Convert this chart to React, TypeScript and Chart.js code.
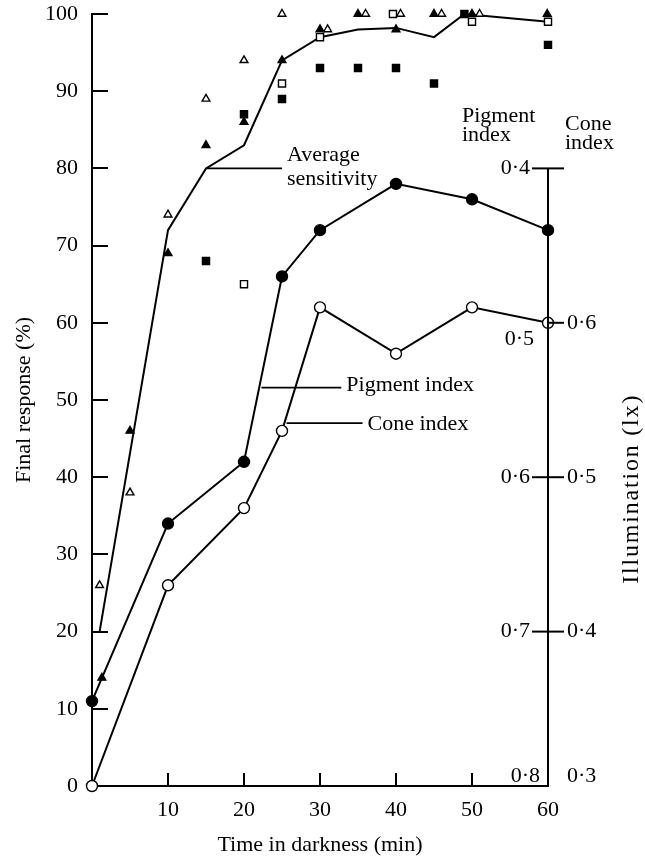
import { useEffect, useRef } from 'react';
import { Chart, registerables } from 'chart.js';

Chart.register(...registerables);

// ---------- data ----------
const timeTicks = [10, 20, 30, 40, 50, 60];
const responseTicks = [0, 10, 20, 30, 40, 50, 60, 70, 80, 90, 100];
const pigmentTickLabels = [0.4, 0.5, 0.6, 0.7, 0.8];
const pigmentTickMarks = [0.4, 0.6, 0.7];
const coneTickLabels = [0.6, 0.5, 0.4, 0.3];
const coneTickMarks = [0.7, 0.6, 0.5, 0.4];

const avgTime = [1, 10, 15, 20, 25, 30, 35, 40, 45, 49, 60];
const avgResp = [20, 72, 80, 83, 94, 97, 98, 98.2, 97, 100, 99];

const pigTime = [0, 10, 20, 25, 30, 40, 50, 60];
const pigResp = [11, 34, 42, 66, 72, 78, 76, 72];

const coneTime = [0, 10, 20, 25, 30, 40, 50, 60];
const coneResp = [0, 26, 36, 46, 62, 56, 62, 60];

const openTriTime = [1, 5, 10, 15, 20, 25, 31, 36, 40.6, 46, 51, 61];
const openTriResp = [26, 38, 74, 89, 94, 100, 98, 100, 100, 100, 100, 100];

const filledTriTime = [1.3, 5, 10, 15, 20, 25, 30, 35, 40, 45, 50, 59.9];
const filledTriResp = [14, 46, 69, 83, 86, 94, 98, 100, 98, 100, 100, 100];

const openSqTime = [20, 25, 30, 39.6, 50, 60];
const openSqResp = [65, 91, 97, 100, 99, 99];

const filledSqTime = [15, 20, 25, 30, 35, 40, 45, 49, 60];
const filledSqResp = [68, 87, 89, 93, 93, 93, 91, 100, 96];

const avgLeaderTime = [15, 25];
const avgLeaderResp = [80, 80];
const pigLeaderTime = [22.3, 32.8];
const pigLeaderResp = [51.6, 51.6];
const coneLeaderTime = [25.6, 35.6];
const coneLeaderResp = [47, 47];

// ---------- helpers ----------
const SERIF = "'Liberation Serif', 'Times New Roman', serif";
const FONT_SIZE = 22;
const toXY = (xs: number[], ys: number[]) => xs.map((x, i) => ({ x, y: ys[i] }));
const fmt = (v: number) => v.toFixed(1).replace('.', '\u00b7');

const annotationPlugin = {
  id: 'annotations',
  afterDraw(chart: any) {
    const { ctx, scales } = chart;
    const xs = scales.x;
    const ys = scales.y;
    const pig = scales.pig;
    const cone = scales.cone;
    ctx.save();
    ctx.fillStyle = '#000';
    ctx.strokeStyle = '#000';
    ctx.font = `${FONT_SIZE}px ${SERIF}`;
    ctx.textBaseline = 'middle';

    // right-hand axis
    const ax = xs.getPixelForValue(60);
    const yTop = pig.getPixelForValue(0.4);
    const yBottom = ys.getPixelForValue(0);
    ctx.lineWidth = 2;
    ctx.beginPath();
    ctx.moveTo(ax, yTop);
    ctx.lineTo(ax, yBottom);
    ctx.stroke();
    pigmentTickMarks.forEach((v) => {
      const py = pig.getPixelForValue(v);
      ctx.beginPath();
      ctx.moveTo(ax - 16, py);
      ctx.lineTo(ax, py);
      ctx.stroke();
    });
    coneTickMarks.forEach((v) => {
      const py = cone.getPixelForValue(v);
      ctx.beginPath();
      ctx.moveTo(ax, py);
      ctx.lineTo(ax + 16, py);
      ctx.stroke();
    });
    ctx.textAlign = 'right';
    pigmentTickLabels.forEach((v) => {
      let py = pig.getPixelForValue(v);
      let px = ax - 18;
      if (v === 0.5) { py += 16; px = ax - 14; }
      if (v === 0.8) { py -= 10; px = ax - 8; }
      ctx.fillText(fmt(v), px, py);
    });
    ctx.textAlign = 'left';
    coneTickLabels.forEach((v) => {
      let py = cone.getPixelForValue(v);
      let px = ax + 19;
      if (v === 0.3) { py -= 10; }
      ctx.fillText(fmt(v), px, py);
    });

    // axis header labels
    ctx.fillText('Pigment', ax - 86, yTop - 52);
    ctx.fillText('index', ax - 86, yTop - 33);
    ctx.fillText('Cone', ax + 17, yTop - 44);
    ctx.fillText('index', ax + 17, yTop - 25);

    // series labels next to leader lines
    const ax1 = xs.getPixelForValue(avgLeaderTime[1]);
    const ay1 = ys.getPixelForValue(avgLeaderResp[1]);
    ctx.fillText('Average', ax1 + 5, ay1 - 13);
    ctx.fillText('sensitivity', ax1 + 5, ay1 + 11);
    const px1 = xs.getPixelForValue(pigLeaderTime[1]);
    const py1 = ys.getPixelForValue(pigLeaderResp[1]);
    ctx.fillText('Pigment index', px1 + 5, py1 - 2);
    const cx1 = xs.getPixelForValue(coneLeaderTime[1]);
    const cy1 = ys.getPixelForValue(coneLeaderResp[1]);
    ctx.fillText('Cone index', cx1 + 5, cy1 + 1);

    // right axis title
    ctx.save();
    ctx.font = `24px ${SERIF}`;
    try { (ctx as any).letterSpacing = '1.8px'; } catch (e) { /* ignore */ }
    ctx.translate(ax + 84, ys.getPixelForValue(38.5));
    ctx.rotate(-Math.PI / 2);
    ctx.textAlign = 'center';
    ctx.fillText('Illumination (lx)', 0, 0);
    ctx.restore();

    ctx.restore();
  },
};

export default function App() {
  const canvasRef = useRef<HTMLCanvasElement | null>(null);

  useEffect(() => {
    const canvas = canvasRef.current;
    if (!canvas) return;
    const font = { family: SERIF, size: FONT_SIZE };
    const line = (data: any[], extra: any = {}) => ({
      type: 'line',
      data,
      borderColor: '#000',
      borderWidth: 2,
      pointRadius: 0,
      fill: false,
      tension: 0,
      clip: false,
      ...extra,
    });
    const marks = (data: any[], style: string, radius: number, filled: boolean) => ({
      type: 'scatter',
      data,
      showLine: false,
      pointStyle: style,
      pointRadius: radius,
      pointBackgroundColor: filled ? '#000' : '#fff',
      pointBorderColor: '#000',
      pointBorderWidth: 1.4,
      clip: false,
    });
    const noPad = (s: any) => {
      s.paddingTop = 0;
      s.paddingBottom = 0;
      s.paddingLeft = 0;
      s.paddingRight = 0;
    };

    const chart = new Chart(canvas, {
      type: 'line',
      data: {
        datasets: [
          marks(toXY(openTriTime, openTriResp), 'triangle', 4.5, false),
          marks(toXY(filledTriTime, filledTriResp), 'triangle', 4.5, true),
          marks(toXY(openSqTime, openSqResp), 'rect', 5, false),
          marks(toXY(filledSqTime, filledSqResp), 'rect', 5, true),
          line(toXY(pigTime, pigResp), {
            pointRadius: 5.5,
            pointStyle: 'circle',
            pointBackgroundColor: '#000',
            pointBorderColor: '#000',
            pointBorderWidth: 1.4,
          }),
          line(toXY(coneTime, coneResp), {
            pointRadius: 5.5,
            pointStyle: 'circle',
            pointBackgroundColor: '#fff',
            pointBorderColor: '#000',
            pointBorderWidth: 1.4,
          }),
          line(toXY(avgTime, avgResp)),
          line(toXY(avgLeaderTime, avgLeaderResp), { borderWidth: 1.6 }),
          line(toXY(pigLeaderTime, pigLeaderResp), { borderWidth: 1.6 }),
          line(toXY(coneLeaderTime, coneLeaderResp), { borderWidth: 1.6 }),
        ] as any,
      },
      options: {
        animation: false,
        responsive: false,
        maintainAspectRatio: false,
        events: [],
        layout: { padding: { top: 14, right: 97, left: 0, bottom: 0 } },
        plugins: {
          legend: { display: false },
          tooltip: { enabled: false },
        },
        scales: {
          x: {
            type: 'linear',
            position: 'bottom',
            min: 0,
            max: 60,
            afterBuildTicks: (s: any) => {
              s.ticks = timeTicks.map((v) => ({ value: v }));
            },
            ticks: { font, color: '#000', padding: 24, maxRotation: 0, autoSkip: false },
            grid: {
              drawOnChartArea: false,
              drawTicks: true,
              tickLength: -13,
              color: '#000',
              lineWidth: 2,
            },
            border: { color: '#000', width: 2 },
            title: {
              display: true,
              text: 'Time in darkness (min)',
              font,
              color: '#000',
              padding: { top: 0, bottom: 2 },
            },
            afterFit: (s: any) => {
              s.height = 74;
              noPad(s);
            },
          },
          y: {
            type: 'linear',
            position: 'left',
            min: 0,
            max: 100,
            afterBuildTicks: (s: any) => {
              s.ticks = responseTicks.map((v) => ({ value: v }));
            },
            ticks: { font, color: '#000', padding: 30, autoSkip: false },
            grid: {
              drawOnChartArea: false,
              drawTicks: true,
              tickLength: -16,
              color: '#000',
              lineWidth: 2,
            },
            border: { color: '#000', width: 2 },
            title: {
              display: true,
              text: 'Final response (%)',
              font,
              color: '#000',
              padding: { top: 11, bottom: 0 },
            },
            afterFit: (s: any) => {
              s.width = 92;
              noPad(s);
            },
          },
          pig: { type: 'linear', display: false, position: 'right', min: 0.3, max: 0.8, reverse: true },
          cone: { type: 'linear', display: false, position: 'right', min: 0.3, max: 0.8 },
        },
      } as any,
      plugins: [annotationPlugin],
    });
    return () => chart.destroy();
  }, []);

  return (
    <div style={{ position: 'absolute', left: 0, top: 0, width: 645, height: 860, background: '#fff' }}>
      <canvas ref={canvasRef} width={645} height={860} style={{ display: 'block' }} />
    </div>
  );
}
